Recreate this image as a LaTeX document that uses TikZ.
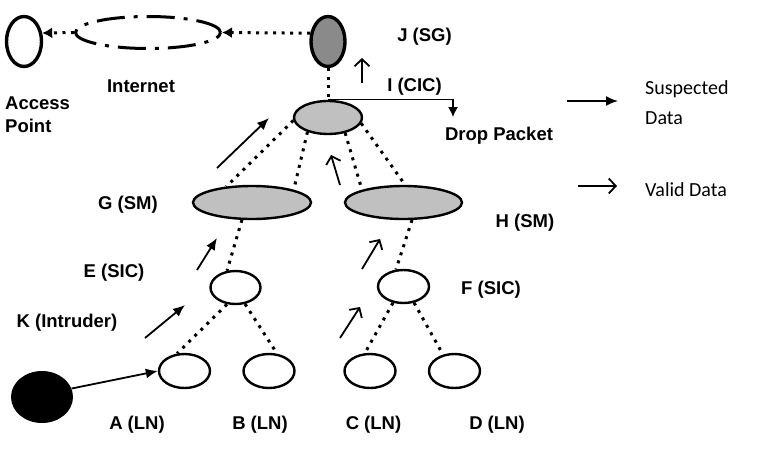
\documentclass[tikz,border=0pt]{standalone}
\usepackage{fontspec}
\setmainfont{Liberation Sans}
\newfontfamily\legendfont{Carlito}
\usepackage{tikz}
\usetikzlibrary{shapes.geometric,arrows.meta}
\definecolor{smgray}{RGB}{192,192,192}
\definecolor{sggray}{RGB}{138,138,138}

\begin{document}
\begin{tikzpicture}[x=1pt, y=-1pt,
    unit/.style={ellipse, draw, line width=2.4pt, inner sep=0pt, fill=white},
    lbl/.style={font=\bfseries\fontsize{18.5}{23}\selectfont, inner sep=0pt},
    legend/.style={font=\legendfont\fontsize{20}{30}\selectfont, inner sep=0pt, anchor=west, align=left},
    link/.style={line width=3pt, dash pattern=on 3pt off 5.5pt},
    bad/.style={line width=1.8pt, -{Latex[length=12pt,width=10pt]}},
    good/.style={line width=1.8pt, -{Straight Barb[length=7pt,width=15pt]}}]
    \useasboundingbox (0,0) rectangle (759,466);
    % nodes
    \node[unit, line width=3.4pt, minimum width=35pt, minimum height=50pt] (ap) at (24,41.5) {};
    \node[unit, line width=3pt, dash pattern=on 28pt off 9pt on 4pt off 9pt,
          minimum width=145pt, minimum height=32pt] (inet) at (148,32.5) {};
    \node[unit, line width=3.4pt, fill=sggray, minimum width=34pt, minimum height=50pt] (j) at (328,41.5) {};
    \node[unit, fill=smgray, minimum width=68pt, minimum height=33pt] (i) at (328,117.5) {};
    \node[unit, fill=smgray, minimum width=118pt, minimum height=33pt] (g) at (252,202.5) {};
    \node[unit, fill=smgray, minimum width=117pt, minimum height=33pt] (h) at (403.5,202.5) {};
    \node[unit, minimum width=50pt, minimum height=33pt] (e) at (235.5,287.5) {};
    \node[unit, minimum width=51pt, minimum height=33pt] (f) at (403.5,286.5) {};
    \node[unit, minimum width=51pt, minimum height=34pt] (a) at (184.5,371) {};
    \node[unit, minimum width=51pt, minimum height=34pt] (b) at (269,371) {};
    \node[unit, minimum width=51pt, minimum height=34pt] (c) at (370,371) {};
    \node[unit, minimum width=51pt, minimum height=34pt] (d) at (454.5,371) {};
    \node[ellipse, fill=black, inner sep=0pt, minimum width=62pt, minimum height=52pt] (k) at (42,397) {};
    % links
    \draw[link, -{Latex[length=10pt,width=11pt]}] (j.155) -- (inet.east);
    \draw[link, -{Latex[length=10pt,width=11pt]}] (inet.west) -- (ap.25);
    \draw[link] (j.south) -- (i.north);
    \draw[link] (i.185) -- (g.148);
    \draw[link] (i.215) -- (g.17);
    \draw[link] (i.318) -- (h.163);
    \draw[link] (i.350) -- (h.85);
    \draw[link] (g.240) -- (e.117);
    \draw[link] (h.296) -- (f.114);
    \draw[link] (e.243) -- (a.113);
    \draw[link] (e.300) -- (b.65);
    \draw[link] (f.237) -- (c.106);
    \draw[link] (f.303) -- (d.125);
    % drop packet
    \coordinate (drop) at (453,117);
    \draw[line width=1.3pt, -{Latex[length=10pt,width=10pt]}] (i.north) -| (drop);
    % intruder path
    \draw[bad] (k.16) -- (a.west);
    \draw[bad] (145,338) -- (185,305);
    \draw[bad] (197,270) -- (217,238);
    \draw[bad] (217,168) -- (269,118);
    % valid path
    \draw[good] (340,338) -- (360,307);
    \draw[good] (362,269) -- (380,239);
    \draw[good] (340,185) -- (331,155);
    \draw[good] (362,83) -- (362,58);
    % legend
    \coordinate (sus) at (567,101);
    \coordinate (val) at (578,186);
    \draw[bad] (sus) -- ++(51,0);
    \draw[good] (val) -- ++(39,0);
    \node[legend] at (645,103) {Suspected\\Data};
    \node[legend] at (645,190) {Valid Data};
    % labels
    \node[lbl, anchor=west, align=left] at (5,115) {Access\\Point};
    \node[lbl] at (141,86) {Internet};
    \node[lbl] at (424.5,37) {J (SG)};
    \node[lbl] at (414.5,87) {I (CIC)};
    \node[lbl] at (499,136) {Drop Packet};
    \node[lbl] at (128,205) {G (SM)};
    \node[lbl] at (525,223) {H (SM)};
    \node[lbl] at (114,273) {E (SIC)};
    \node[lbl] at (491,290) {F (SIC)};
    \node[lbl] at (67,323) {K (Intruder)};
    \node[lbl] at (137,425) {A (LN)};
    \node[lbl] at (260,425) {B (LN)};
    \node[lbl] at (373.5,425) {C (LN)};
    \node[lbl] at (497,425) {D (LN)};
\end{tikzpicture}
\end{document}
